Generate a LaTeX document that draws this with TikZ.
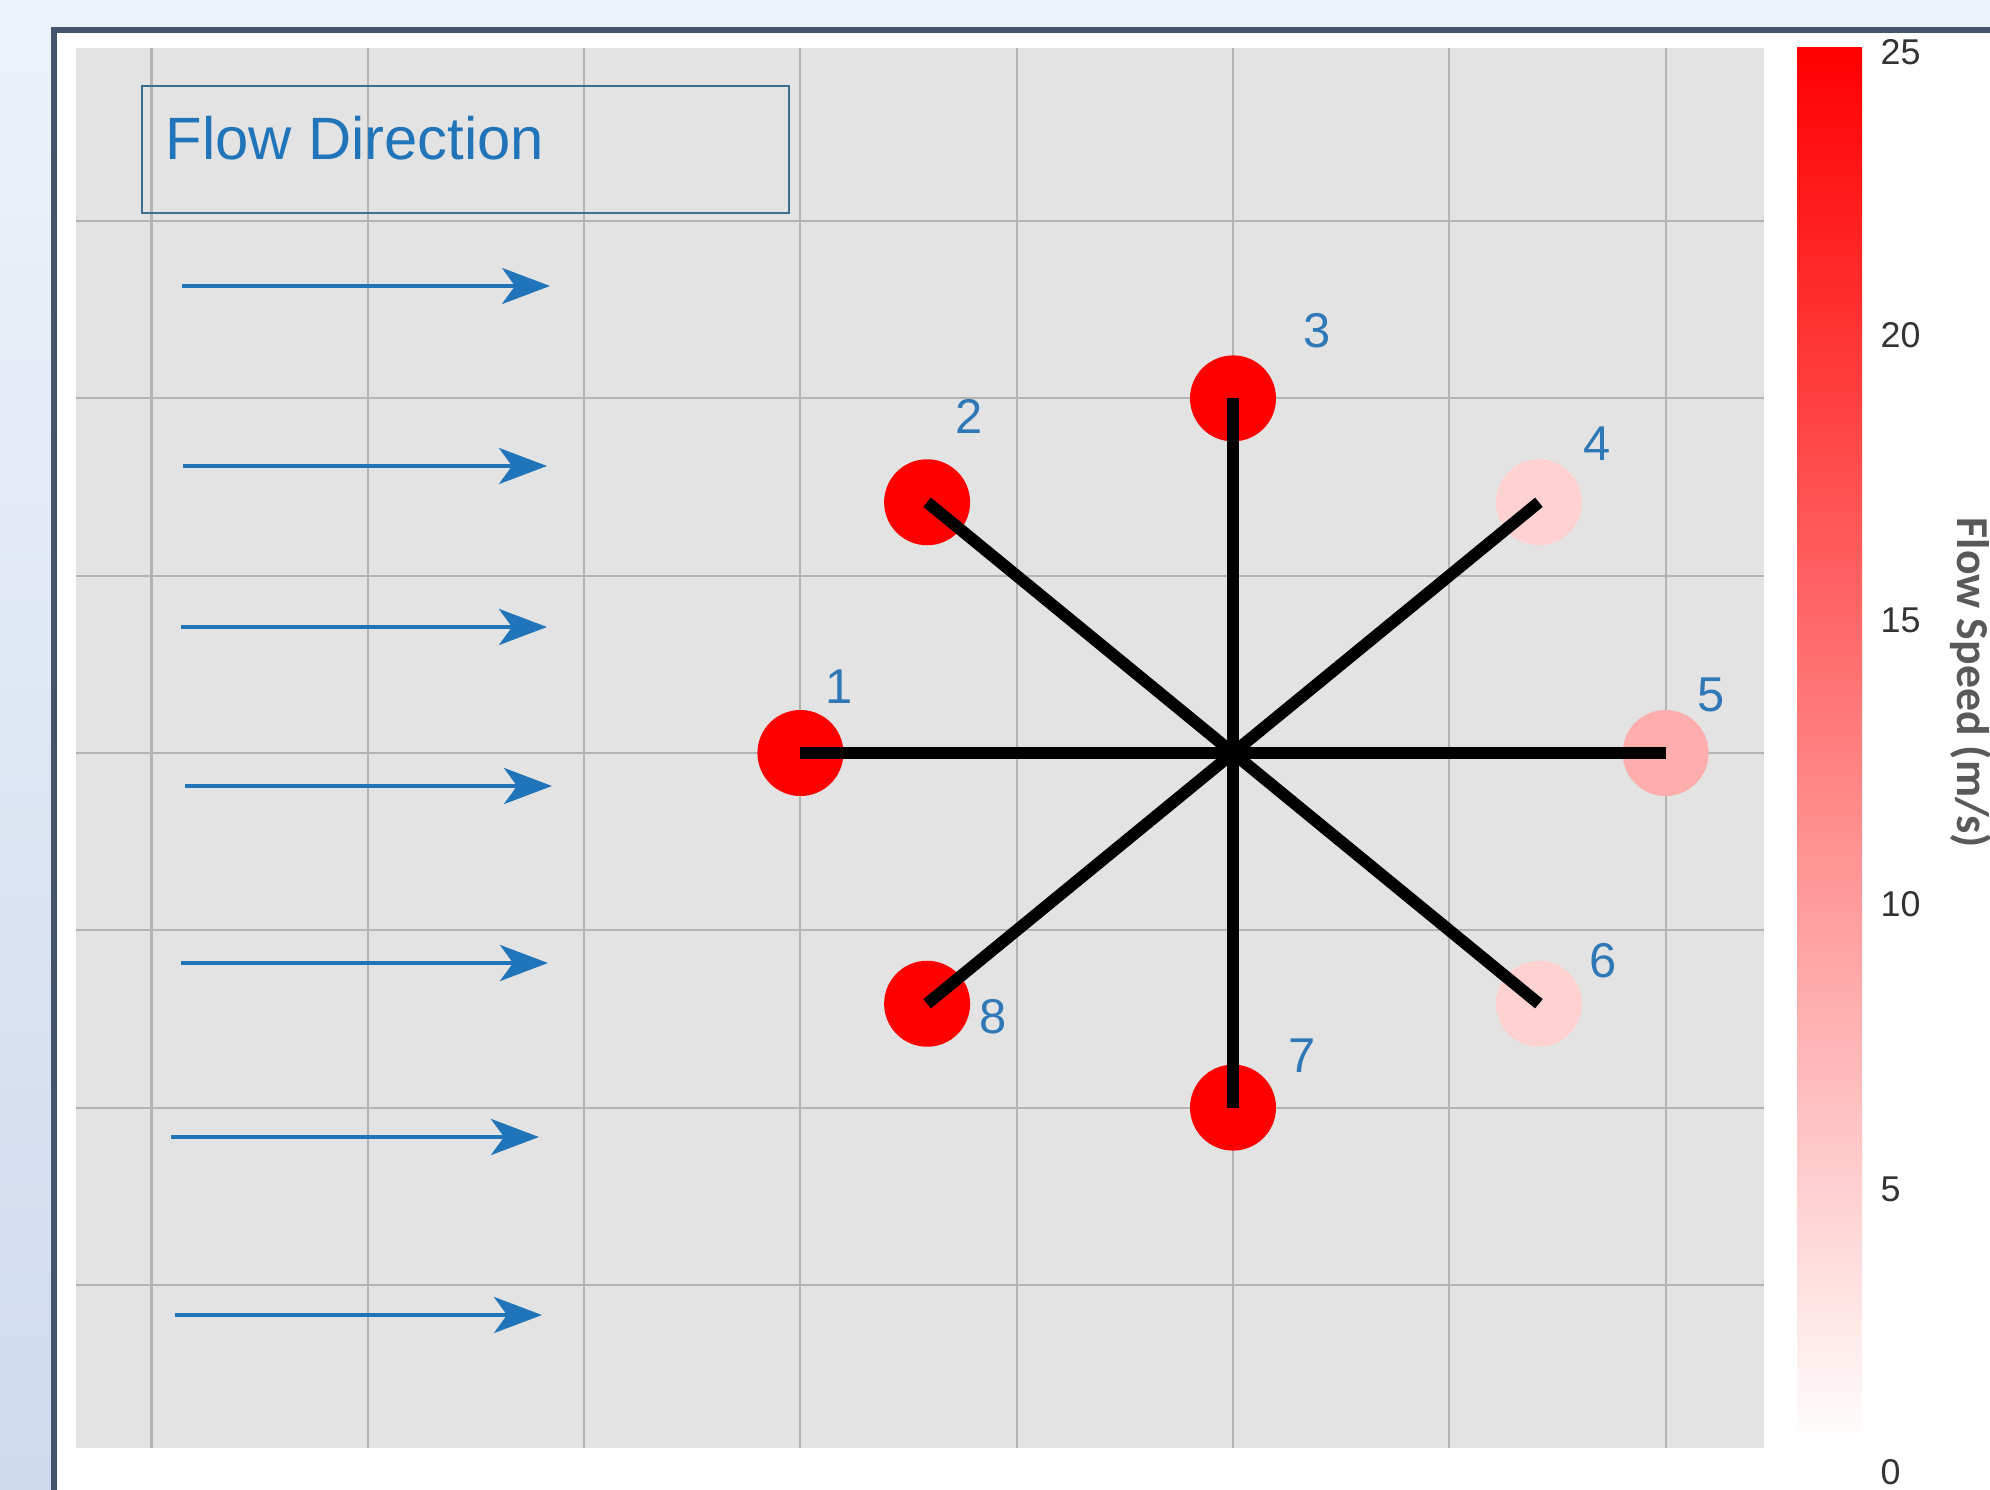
\documentclass[tikz,border=0pt]{standalone}
\usepackage{fontspec}
\setmainfont{Liberation Sans}
\newfontfamily\titlefont{Carlito}
\usetikzlibrary{arrows.meta,positioning}
\definecolor{flowPageTop}{HTML}{EEF2FA}
\definecolor{flowPageBottom}{HTML}{CFDAEE}
\definecolor{flowFrame}{HTML}{44546A}
\definecolor{flowPanel}{HTML}{E3E3E3}
\definecolor{flowGrid}{HTML}{B3B3B3}
\definecolor{flowBlue}{HTML}{1F74BA}
\definecolor{flowLabel}{HTML}{2E78B7}
\definecolor{flowBoxEdge}{HTML}{3A6F8E}
\definecolor{flowTick}{HTML}{333333}
\definecolor{flowTitle}{HTML}{595959}

\begin{document}
\begin{tikzpicture}[
    gridline/.style={draw=flowGrid,line width=.6pt},
    sensor/.style={circle,minimum size=.86cm,inner sep=0pt},
    spoke/.style={line width=.12cm},
    tag/.style={text=flowLabel,font=\fontsize{13.9}{15}\selectfont,inner sep=0pt},
    flowarrow/.style={draw=flowBlue,line width=.04cm,-{Stealth[length=.48cm,width=.36cm,inset=.13cm]}},
    ticklabel/.style={text=flowTick,font=\fontsize{10.2}{12}\selectfont,anchor=west,inner sep=0pt}]
    \useasboundingbox (0,0) rectangle (19.90,14.89);
    \clip (0,0) rectangle (19.90,14.89);
    \shade[top color=flowPageTop,bottom color=flowPageBottom] (0,0) rectangle (19.90,14.89);
    \filldraw[fill=white,draw=flowFrame,line width=.06cm] (.54,-1) rectangle (21,14.59);
    \fill[flowPanel] (.76,.41) rectangle (17.64,14.41);
    \begin{scope}[shift={(12.33,7.36)},x=2.163cm,y=1.773cm]
        \foreach \gx in {-5,...,2}
            \draw[gridline] (\gx,-3.92) -- (\gx,3.976);
        \foreach \gy in {-3,...,3}
            \draw[gridline] (-5.349,\gy) -- (2.455,\gy);
        \foreach \ang/\num/\strength in {180/1/100,135/2/100,90/3/100,45/4/18,0/5/32,-45/6/18,-90/7/100,-135/8/100}
            \node[sensor,fill=red!\strength!white] (s\num) at (\ang:2) {};
    \end{scope}
    \draw[spoke] (s1.center) -- (s5.center);
    \draw[spoke] (s2.center) -- (s6.center);
    \draw[spoke] (s3.center) -- (s7.center);
    \draw[spoke] (s4.center) -- (s8.center);
    \node[tag] (t1) at ([shift={(.39cm,.66cm)}]s1.center) {1};
    \node[tag] (t2) at ([shift={(.42cm,.86cm)}]s2.center) {2};
    \node[tag] (t3) at ([shift={(.84cm,.68cm)}]s3.center) {3};
    \node[tag] (t4) at ([shift={(.58cm,.59cm)}]s4.center) {4};
    \node[tag] (t5) at ([shift={(.45cm,.58cm)}]s5.center) {5};
    \node[tag] (t6) at ([shift={(.64cm,.43cm)}]s6.center) {6};
    \node[tag] (t7) at ([shift={(.69cm,.52cm)}]s7.center) {7};
    \node[tag] (t8) at ([shift={(.66cm,-.13cm)}]s8.center) {8};
    \node[draw=flowBoxEdge,line width=.7pt,minimum width=6.47cm,minimum height=1.27cm,inner sep=0pt,anchor=north west] (legend) at (1.41,14.04) {};
    \node[text=flowBlue,font=\fontsize{17}{20}\selectfont,inner sep=0pt,anchor=west] (legendtext) at ([xshift=.24cm,yshift=.115cm]legend.west) {Flow Direction};
    \foreach \row/\ya/\xa/\xb in {1/12.03/1.82/5.50,2/10.23/1.83/5.47,3/8.62/1.81/5.47,4/7.03/1.85/5.52,5/5.26/1.81/5.48,6/3.52/1.71/5.39,7/1.74/1.75/5.42} {
        \coordinate (f\row a) at (\xa,\ya);
        \coordinate (f\row b) at (\xb,\ya);
        \draw[flowarrow] (f\row a) -- (f\row b);
    }
    \node[inner sep=0pt,minimum width=.65cm,minimum height=14cm,top color=red,bottom color=white] (cbar) at (18.295,7.41) {};
    \foreach \val/\ty in {25/14.37,20/11.54,15/8.69,10/5.85,5/3.00,0/0.17}
        \node[ticklabel] (tick\val) at (18.80,\ty) {\val};
    \node[rotate=-90,text=flowTitle,font=\titlefont\bfseries\fontsize{13}{15}\selectfont] (cbartitle) at (19.71,8.06) {Flow Speed (m/s)};
\end{tikzpicture}
\end{document}
